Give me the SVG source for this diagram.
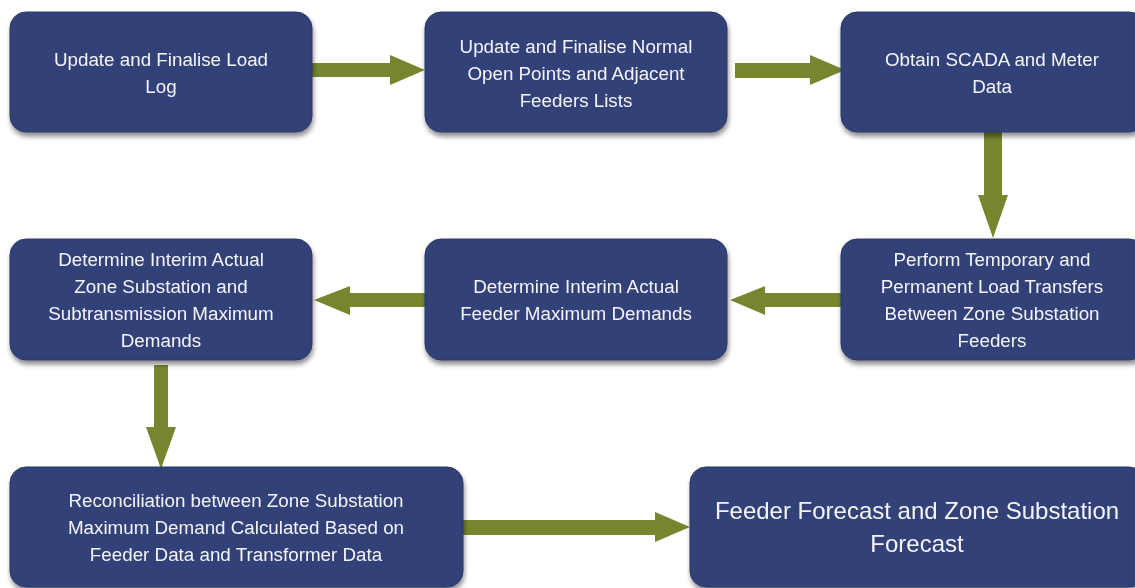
<svg xmlns="http://www.w3.org/2000/svg" width="1135" height="588" viewBox="0 0 1135 588">
<defs>
<filter id="sh" x="-10%" y="-10%" width="125%" height="130%">
<feGaussianBlur in="SourceAlpha" stdDeviation="2.5"/>
<feOffset dx="1" dy="4" result="b"/>
<feComponentTransfer><feFuncA type="linear" slope="0.45"/></feComponentTransfer>
<feMerge><feMergeNode/><feMergeNode in="SourceGraphic"/></feMerge>
</filter>
<style>
.box{fill:#334279;stroke:#2a3768;stroke-width:1}
.t{fill:#f4f4f8;font-family:"Liberation Sans",Arial,sans-serif;font-size:18.8px;text-anchor:middle}
.tl{fill:#f4f4f8;font-family:"Liberation Sans",Arial,sans-serif;font-size:24px;text-anchor:middle}
.arr{fill:#76862f}
</style>
</defs>
<rect width="1135" height="588" fill="#ffffff"/>
<g id="connectors">
<polygon class="arr" points="312,63 390,63 390,55 425,70 390,85 390,77 312,77"/>
<polygon class="arr" points="735,63 810,63 810,55 845,70 810,85 810,78 735,78"/>
<polygon class="arr" points="984,132 1002,132 1002,195 1008,195 993,238 978,195 984,195"/>
<polygon class="arr" points="841,293 765,293 765,286 730,300 765,315 765,307 841,307"/>
<polygon class="arr" points="425,293 350,293 350,286 314,300 350,315 350,307 425,307"/>
<polygon class="arr" points="154,365 168,365 168,427 176,427 161,469 146,427 154,427"/>
<polygon class="arr" points="463,520 655,520 655,512 690,527 655,542 655,535 463,535"/>
</g>
<g id="n1" filter="url(#sh)"><rect class="box" x="10" y="12" width="302" height="120" rx="16"/>
<text class="t" x="161" y="66">Update and Finalise Load</text><text class="t" x="161" y="93">Log</text></g>
<g id="n2" filter="url(#sh)"><rect class="box" x="425" y="12" width="302" height="120" rx="16"/>
<text class="t" x="576" y="53">Update and Finalise Normal</text><text class="t" x="576" y="80">Open Points and Adjacent</text><text class="t" x="576" y="107">Feeders Lists</text></g>
<g id="n3" filter="url(#sh)"><rect class="box" x="841" y="12" width="304" height="120" rx="16"/>
<text class="t" x="992" y="66">Obtain SCADA and Meter</text><text class="t" x="992" y="93">Data</text></g>
<g id="n4" filter="url(#sh)"><rect class="box" x="841" y="239" width="304" height="121" rx="16"/>
<text class="t" x="992" y="266">Perform Temporary and</text><text class="t" x="992" y="293">Permanent Load Transfers</text><text class="t" x="992" y="320">Between Zone Substation</text><text class="t" x="992" y="347">Feeders</text></g>
<g id="n5" filter="url(#sh)"><rect class="box" x="425" y="239" width="302" height="121" rx="16"/>
<text class="t" x="576" y="293">Determine Interim Actual</text><text class="t" x="576" y="320">Feeder Maximum Demands</text></g>
<g id="n6" filter="url(#sh)"><rect class="box" x="10" y="239" width="302" height="121" rx="16"/>
<text class="t" x="161" y="266">Determine Interim Actual</text><text class="t" x="161" y="293">Zone Substation and</text><text class="t" x="161" y="320">Subtransmission Maximum</text><text class="t" x="161" y="347">Demands</text></g>
<g id="n7" filter="url(#sh)"><rect class="box" x="10" y="467" width="453" height="120" rx="16"/>
<text class="t" x="236" y="507">Reconciliation between Zone Substation</text><text class="t" x="236" y="534">Maximum Demand Calculated Based on</text><text class="t" x="236" y="561">Feeder Data and Transformer Data</text></g>
<g id="n8" filter="url(#sh)"><rect class="box" x="690" y="467" width="455" height="120" rx="16"/>
<text class="tl" x="917" y="519">Feeder Forecast and Zone Substation</text><text class="tl" x="917" y="552">Forecast</text></g>
</svg>
